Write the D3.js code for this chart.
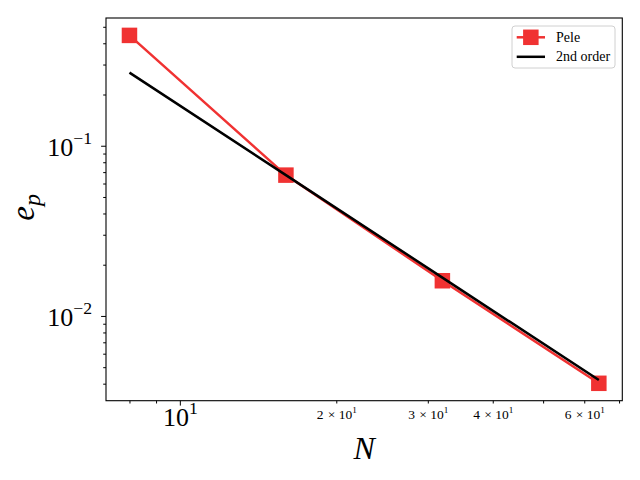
<!DOCTYPE html>
<html>
<head>
<meta charset="utf-8">
<script src="https://cdn.jsdelivr.net/npm/d3@7"></script>
<style>
  body { margin: 0; background: #fff; }
  text { font-family: "Liberation Serif", "DejaVu Serif", serif; }
</style>
</head>
<body>
<div id="chart"></div>
<script>
// data
const resolutions = [8, 16, 32, 64];
const peleError = [0.445, 0.0672, 0.0161, 0.00402];
const secondOrder = [0.2688, 0.0672, 0.0168, 0.0042];
const seriesNames = ["Pele", "2nd order"];

const xMinorTicks = [8, 9, 20, 30, 40, 50, 60, 70];
const xMinorLabelled = [20, 30, 40, 60];
const yMajorTicks = [0.01, 0.1];
const yMinorTicks = [0.004, 0.005, 0.006, 0.007, 0.008, 0.009,
                     0.02, 0.03, 0.04, 0.05, 0.06, 0.07, 0.08, 0.09,
                     0.2, 0.3, 0.4, 0.5];

const width = 640, height = 480;
const margin = { top: 18, right: 17.7, bottom: 79.3, left: 106 };
const red = "#f03232";
const lw = 2.5;

const svg = d3.select("#chart")
  .append("svg")
  .attr("width", width)
  .attr("height", height);

// matplotlib-style 5% margins in log space
const logPad = (lo, hi) => {
  const a = Math.log10(lo), b = Math.log10(hi), m = (b - a) * 0.05;
  return [Math.pow(10, a - m), Math.pow(10, b + m)];
};
const allY = peleError.concat(secondOrder);

const x = d3.scaleLog()
  .domain(logPad(d3.min(resolutions), d3.max(resolutions)))
  .range([margin.left, width - margin.right]);

const y = d3.scaleLog()
  .domain(logPad(d3.min(allY), d3.max(allY)))
  .range([height - margin.bottom, margin.top]);

const plotBottom = height - margin.bottom;

// superscript tick labels like 10^1, 2 x 10^1
const supLabel = (sel, mant, exp, size) => {
  sel.text(null).style("font-size", size + "px");
  if (mant !== null) {
    sel.append("tspan").text(mant);
    sel.append("tspan").attr("dx", size * 0.32).text("\u00d7");
    sel.append("tspan").attr("dx", size * 0.24).text("10");
  } else {
    sel.append("tspan").text("10");
  }
  sel.append("tspan")
    .attr("dy", -size * 0.46)
    .style("font-size", (size * 0.68) + "px")
    .text(exp);
};

// x axis: major
const xMajor = svg.append("g")
  .attr("transform", `translate(0,${plotBottom})`)
  .call(d3.axisBottom(x).tickValues([10]).tickSize(4.9));
xMajor.selectAll("text")
  .attr("y", 25.5)
  .attr("dy", null)
  .each(function () { supLabel(d3.select(this), null, "1", 26); });

// x axis: minor
const xMinor = svg.append("g")
  .attr("transform", `translate(0,${plotBottom})`)
  .call(d3.axisBottom(x).tickValues(xMinorTicks).tickSize(2.8));
xMinor.selectAll("text")
  .attr("y", 18.5)
  .attr("dy", null)
  .each(function (d) {
    const t = d3.select(this);
    if (xMinorLabelled.includes(d)) supLabel(t, String(d / 10), "1", 13.5);
    else t.text(null);
  });

// y axis: major
const yMajor = svg.append("g")
  .attr("transform", `translate(${margin.left},0)`)
  .call(d3.axisLeft(y).tickValues(yMajorTicks).tickSize(4.9).tickPadding(9));
yMajor.selectAll("text")
  .attr("dy", 9.5)
  .each(function (d) {
    supLabel(d3.select(this), null, "\u2212" + Math.round(-Math.log10(d)), 26);
  });

// y axis: minor
svg.append("g")
  .attr("transform", `translate(${margin.left},0)`)
  .call(d3.axisLeft(y).tickValues(yMinorTicks).tickSize(2.8).tickFormat(""));

svg.selectAll(".domain").remove();
svg.selectAll(".tick line").attr("stroke", "#000").attr("stroke-width", 1);

// frame
svg.append("rect")
  .attr("x", margin.left)
  .attr("y", margin.top)
  .attr("width", width - margin.left - margin.right)
  .attr("height", plotBottom - margin.top)
  .attr("fill", "none")
  .attr("stroke", "#000")
  .attr("stroke-width", 1.1);

const line = d3.line()
  .x(d => x(d[0]))
  .y(d => y(d[1]));

// Pele line + markers
svg.append("path")
  .datum(d3.zip(resolutions, peleError))
  .attr("d", line)
  .attr("fill", "none")
  .attr("stroke", red)
  .attr("stroke-width", lw);

const sq = 15.5;
svg.selectAll(".pele-marker")
  .data(d3.zip(resolutions, peleError))
  .join("rect")
  .attr("class", "pele-marker")
  .attr("x", d => x(d[0]) - sq / 2)
  .attr("y", d => y(d[1]) - sq / 2)
  .attr("width", sq)
  .attr("height", sq)
  .attr("fill", red);

// 2nd order reference
svg.append("path")
  .datum(d3.zip(resolutions, secondOrder))
  .attr("d", line)
  .attr("fill", "none")
  .attr("stroke", "#000")
  .attr("stroke-width", lw);

// axis labels
svg.append("text")
  .attr("x", (margin.left + width - margin.right) / 2)
  .attr("y", 459)
  .attr("text-anchor", "middle")
  .style("font-size", "32px")
  .style("font-style", "italic")
  .text("N");

const yl = svg.append("text")
  .attr("transform", `translate(34,${(margin.top + plotBottom) / 2 - 2}) rotate(-90)`)
  .attr("text-anchor", "middle")
  .style("font-size", "33px")
  .style("font-style", "italic");
yl.append("tspan").text("e");
yl.append("tspan").attr("dy", 6).style("font-size", "24px").text("p");

// legend
const lg = svg.append("g").attr("transform", "translate(512,26)");
lg.append("rect")
  .attr("width", 103)
  .attr("height", 42)
  .attr("rx", 3)
  .attr("fill", "#fff")
  .attr("fill-opacity", 0.8)
  .attr("stroke", "#d0d0d0")
  .attr("stroke-width", 1);

seriesNames.forEach((name, i) => {
  const cy = 11.3 + i * 19.5;
  const color = i === 0 ? red : "#000";
  lg.append("line")
    .attr("x1", 4.7).attr("x2", 33)
    .attr("y1", cy).attr("y2", cy)
    .attr("stroke", color)
    .attr("stroke-width", lw);
  if (i === 0) {
    lg.append("rect")
      .attr("x", 18.85 - sq / 2).attr("y", cy - sq / 2)
      .attr("width", sq).attr("height", sq)
      .attr("fill", red);
  }
  lg.append("text")
    .attr("x", 44)
    .attr("y", cy)
    .attr("dy", "0.33em")
    .style("font-size", "14px")
    .text(name);
});
</script>
</body>
</html>
